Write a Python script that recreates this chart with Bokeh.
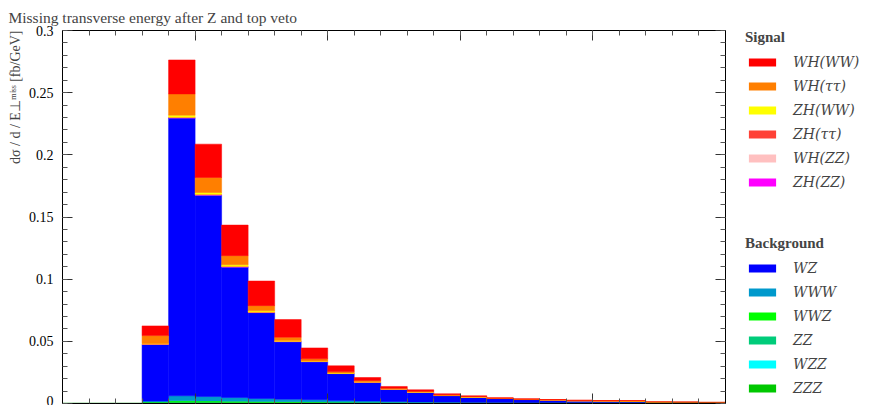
from bokeh.plotting import figure
from bokeh.layouts import row
from bokeh.models import (Range1d, LinearAxis, Legend, LegendItem, NumeralTickFormatter,
                          FixedTicker, ColumnDataSource, Title)
from bokeh.embed import file_html
from bokeh.resources import INLINE

# ---- data -------------------------------------------------------------
edges = [10 * i for i in range(26)]           # MET bins [GeV]
centers = [e + 5 for e in edges[:-1]]

WH_WW     = [0, 0, 0, .0078, .0273, .0268, .0246, .0198, .0142, .0088, .0046, .0024, .0014, .0012, .0008, .0006, .0003, .0003, .0002, .0002, .0002, .0001, .0001, .0001, .0001]
WH_tautau = [0, 0, 0, .0063, .0171, .0121, .0073, .0042, .0027, .0017, .0012, .0010, .0005, .0005, .0005, .0004, .0002, .0003, .0002, .0003, .0002, .0007, .0002, .0002, .0001]
ZH_WW     = [0, 0, 0, .0005, .0016, .0015, .0013, .0010, .0006, .0003, .0003, .0003, .0002, .0002, .0001, .0001, .0001, 0, 0, 0, 0, 0, 0, 0, 0]
ZH_tautau = [0, 0, 0, .0001, .0003, .0003, .0002, .0002, .0001, .0001, .0001, .0001, .0001, 0, 0, 0, 0, 0, 0, 0, 0, 0, 0, 0, 0]
WH_ZZ     = [0, 0, 0, .0001, .0002, .0002, .0002, .0001, .0001, .0001, 0, 0, 0, 0, 0, 0, 0, 0, 0, 0, 0, 0, 0, 0, 0]
ZH_ZZ     = [0, 0, 0, 0, .0001, .0001, .0001, .0001, 0, 0, 0, 0, 0, 0, 0, 0, 0, 0, 0, 0, 0, 0, 0, 0, 0]
WZ        = [0, 0, 0, .0456, .2235, .1620, .1050, .0691, .0463, .0307, .0216, .0151, .0099, .0078, .0053, .0043, .0033, .0027, .0024, .0019, .0017, .0014, .0008, .0008, .0007]
WWW       = [0, 0, 0, .0008, .0040, .0035, .0029, .0023, .0020, .0017, .0014, .0011, .0009, .0008, .0007, .0006, .0005, .0004, .0004, .0003, .0003, .0002, .0002, .0001, .0001]
WWZ       = [0, 0, 0, .0006, .0012, .0011, .0010, .0009, .0008, .0007, .0006, .0005, .0004, .0003, .0003, .0002, .0002, .0001, 0, 0, 0, 0, 0, 0, 0]
ZZ        = [0, 0, 0, .0004, .0008, .0008, .0007, .0006, .0005, .0004, .0003, .0003, .0002, .0002, .0001, 0, 0, 0, 0, 0, 0, 0, 0, 0, 0]
WZZ       = [0, 0, 0, .0001, .0001, .0001, .0001, .0001, .0001, .0001, .0001, 0, 0, 0, 0, 0, 0, 0, 0, 0, 0, 0, 0, 0, 0]
ZZZ       = [0, 0, 0, .0001, .0001, .0001, .0001, .0001, .0001, .0001, .0001, .0001, .0001, 0, 0, 0, 0, 0, 0, 0, 0, 0, 0, 0, 0]

signal_names = ["WH_WW", "WH_tautau", "ZH_WW", "ZH_tautau", "WH_ZZ", "ZH_ZZ"]
signal_labels = ["WH(WW)", "WH(ττ)", "ZH(WW)", "ZH(ττ)", "WH(ZZ)", "ZH(ZZ)"]
signal_colors = ["#ff0000", "#ff7f00", "#ffff00", "#ff4136", "#ffc0c0", "#ff00ff"]
bkg_names = ["WZ", "WWW", "WWZ", "ZZ", "WZZ", "ZZZ"]
bkg_labels = ["WZ", "WWW", "WWZ", "ZZ", "WZZ", "ZZZ"]
bkg_colors = ["#0000ff", "#0099cc", "#00ff00", "#00cc7a", "#00ffff", "#00c800"]

y_ticks = [0, 0.05, 0.1, 0.15, 0.2, 0.25, 0.3]
x_major = list(range(0, 251, 50))
x_minor = list(range(0, 251, 10))
y_minor = [i / 100 for i in range(31)]

title_text = "Missing transverse energy after Z and top veto"
y_label = "dσ / d / E⊥ᵐⁱˢˢ [fb/GeV]"

# ---- main figure ------------------------------------------------------
FONT = "Liberation Serif"
p = figure(width=727, height=405, output_backend="svg", toolbar_location=None,
           x_range=Range1d(edges[0], edges[-1]), y_range=Range1d(0, 0.3),
           min_border_left=62, min_border_right=2, min_border_top=30, min_border_bottom=2)
p.xgrid.visible = False
p.ygrid.visible = False
p.outline_line_color = "black"

data = dict(x=centers, WH_WW=WH_WW, WH_tautau=WH_tautau, ZH_WW=ZH_WW, ZH_tautau=ZH_tautau,
            WH_ZZ=WH_ZZ, ZH_ZZ=ZH_ZZ, WZ=WZ, WWW=WWW, WWZ=WWZ, ZZ=ZZ, WZZ=WZZ, ZZZ=ZZZ)
src = ColumnDataSource(data)

stack_names = bkg_names[::-1] + signal_names[::-1]
stack_colors = bkg_colors[::-1] + signal_colors[::-1]
p.vbar_stack(stack_names, x="x", width=10, source=src, color=stack_colors, line_width=0.5)

# bottom ZZZ outline
p.step(x=edges, y=ZZZ + [ZZZ[-1]], mode="after", line_color="#22a22a", line_width=1.5)

xt = FixedTicker(ticks=x_major, minor_ticks=x_minor)
yt = FixedTicker(ticks=y_ticks, minor_ticks=y_minor)

def style_axis(ax, ticks, labels):
    ax.major_tick_in = 10
    ax.major_tick_out = 0
    ax.minor_tick_in = 5
    ax.minor_tick_out = 0
    ax.axis_line_color = "black"
    ax.major_tick_line_color = "#333333"
    ax.minor_tick_line_color = "#555555"
    if not labels:
        ax.major_label_overrides = {t: "" for t in ticks}
        ax.major_label_text_font_size = "1px"
        ax.major_label_standoff = 0
        ax.axis_label = None

bx = p.xaxis[0]
bx.ticker = xt
style_axis(bx, x_major, False)

ly = p.yaxis[0]
ly.ticker = yt
ly.formatter = NumeralTickFormatter(format="0.[00]")
style_axis(ly, y_ticks, True)
ly.major_label_text_font = FONT
ly.major_label_text_font_size = "14px"
ly.major_label_text_color = "black"
ly.major_label_standoff = 9

tx = LinearAxis(ticker=xt)
style_axis(tx, x_major, False)
p.add_layout(tx, "above")
ry = LinearAxis(ticker=yt)
style_axis(ry, y_ticks, False)
p.add_layout(ry, "right")

p.title.text = title_text
p.title.text_font = FONT
p.title.text_font_size = "15.5px"
p.title.text_font_style = "normal"
p.title.align = "left"
p.title.offset = -54
p.title.standoff = 10

ytitle = Title(text=y_label, align="right", text_font=FONT, text_font_size="14px",
               text_font_style="normal", standoff=6)
p.add_layout(ytitle, "left")

# ---- legend panel -----------------------------------------------------
lp = figure(width=137, height=405, output_backend="svg", toolbar_location=None,
            x_range=Range1d(0, 1), y_range=Range1d(0, 1), min_border=0,
            x_axis_location=None, y_axis_location=None, outline_line_color=None)
lp.xgrid.visible = False
lp.ygrid.visible = False

# zero-height placeholder bars: they only supply the legend swatches
def legend_renderers(colors):
    return [lp.vbar(x=[0.5], bottom=[0], top=[0], width=0, fill_color=c, line_alpha=0)
            for c in colors]

sig_r = legend_renderers(signal_colors)
bkg_r = legend_renderers(bkg_colors)

def make_legend(title, labels, rends, loc):
    lg = Legend(items=[LegendItem(label=l, renderers=[r]) for l, r in zip(labels, rends)],
                title=title, location=loc, orientation="vertical")
    lg.title_text_font = FONT
    lg.title_text_font_style = "bold"
    lg.title_text_font_size = "15px"
    lg.title_standoff = 4
    lg.label_text_font = "DejaVu Serif"
    lg.label_text_font_style = "italic"
    lg.label_text_font_size = "14px"
    lg.label_height = 24
    lg.glyph_width = 34
    lg.glyph_height = 10
    lg.label_standoff = 14
    lg.spacing = 0
    lg.padding = 0
    lg.margin = 0
    lg.border_line_alpha = 0
    lg.background_fill_alpha = 0
    return lg

lp.add_layout(make_legend("Signal", signal_labels, sig_r, (18, 209)))
lp.add_layout(make_legend("Background", bkg_labels, bkg_r, (18, 3)))

layout = row(p, lp)
open("out.html", "w").write(file_html(layout, INLINE))
